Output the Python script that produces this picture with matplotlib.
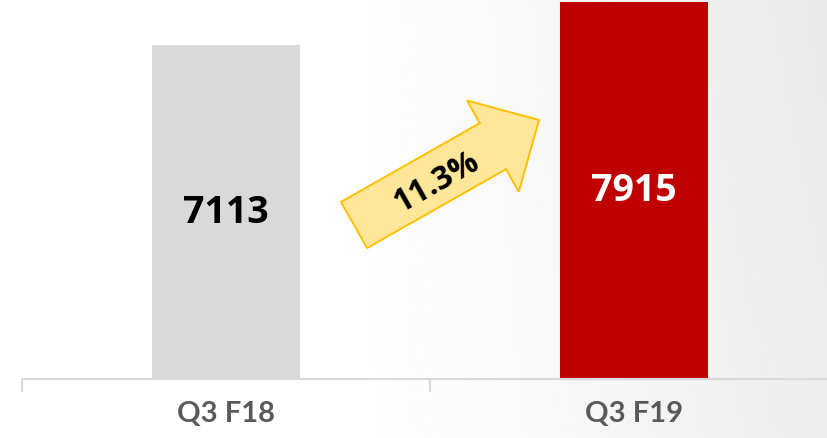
import numpy as np
import matplotlib.pyplot as plt
from matplotlib.patches import FancyArrow

# data
categories = ['Q3 F18', 'Q3 F19']
values = [7113, 7915]
bar_colors = ['#d9d9d9', '#c00000']
label_colors = ['black', 'white']
growth_label = '11.3%'

W, H = 828, 439
fig = plt.figure(figsize=(W / 100, H / 100), dpi=100)

# background gradient (white on the left, light gray on the right)
bg = fig.add_axes([0, 0, 1, 1])
xx = np.linspace(0, 1, 400)
yy = np.linspace(0, 1, 200)
gx, gy = np.meshgrid(xx, yy)
shade = 1 - 0.09 * np.clip((gx - 0.4) / 0.6, 0, 1) ** 1.2 * (0.8 + 0.2 * (1 - gy))
bg.imshow(shade, cmap='gray', vmin=0, vmax=1, aspect='auto', extent=[0, 1, 0, 1])
bg.axis('off')

# main chart: baseline at y=380px, axis spans x=22..838px
left, right = 22, 838
bottom, top = H - 380, H + 2
ax = fig.add_axes([left / W, bottom / H, (right - left) / W, (top - bottom) / H])
ax.patch.set_alpha(0)

x = np.arange(len(categories))
bars = ax.bar(x, values, width=0.365, color=bar_colors, zorder=2)
ax.set_xlim(-0.5, len(categories) - 0.5)
ax.set_ylim(1000, 8000)

for b, v, c in zip(bars, values, label_colors):
    ax.text(b.get_x() + b.get_width() / 2, (1000 + v) / 2, str(v),
            ha='center', va='center', fontsize=27, fontweight='bold',
            color=c, family='Open Sans')

for s in ['top', 'right', 'left']:
    ax.spines[s].set_visible(False)
ax.spines['bottom'].set_color('#d9d9d9')
ax.spines['bottom'].set_linewidth(1.5)
ax.set_yticks([])
ax.set_xticks(np.arange(len(categories) + 1) - 0.5, minor=False)
ax.set_xticklabels([])
ax.tick_params(axis='x', length=9, width=1.5, color='#d9d9d9')
for xi, cat in zip(x, categories):
    ax.text(xi, -0.09, cat, transform=ax.get_xaxis_transform(),
            ha='center', va='center', fontsize=21, fontweight='bold',
            color='#595959', family='Lato')

# growth arrow overlay in pixel coordinates
ov = fig.add_axes([0, 0, 1, 1])
ov.set_xlim(0, W)
ov.set_ylim(H, 0)
ov.axis('off')
ov.patch.set_alpha(0)
arrow = FancyArrow(354, 226, 185, -105, width=53, head_width=105,
                   head_length=53, length_includes_head=True,
                   facecolor='#ffe699', edgecolor='#ffc000', linewidth=1.4)
ov.add_patch(arrow)
ov.text(436, 183, growth_label, rotation=29.6, ha='center', va='center',
        fontsize=23, fontweight='bold', color='black', family='Open Sans',
        rotation_mode='anchor')

plt.savefig('out.png', dpi=100)
